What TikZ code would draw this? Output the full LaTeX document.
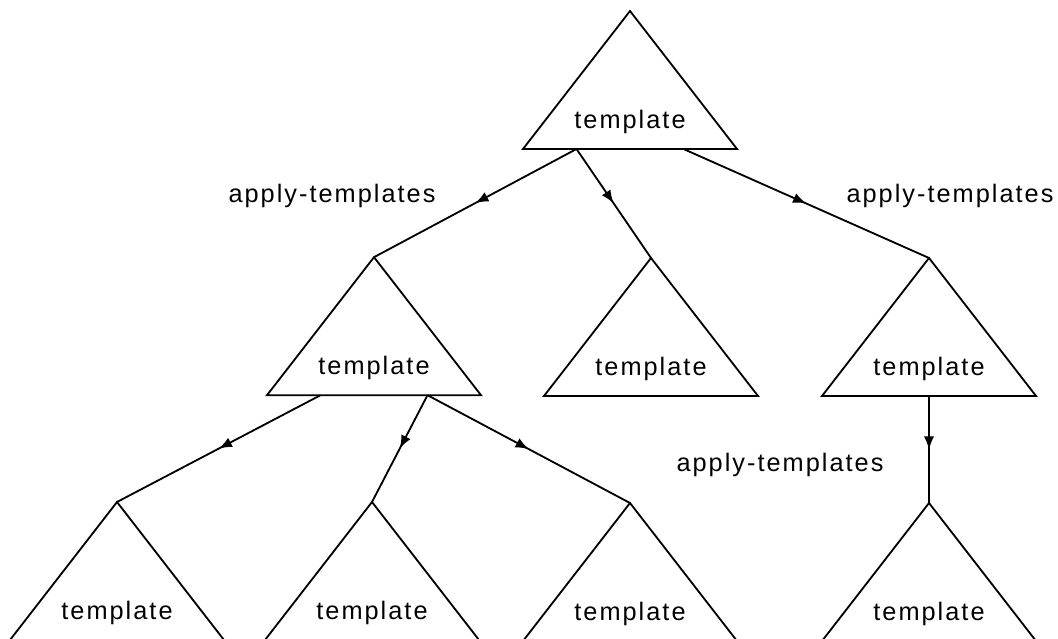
\documentclass[tikz,border=0pt]{standalone}
\usepackage{fontspec}
\setmainfont{Liberation Sans}[LetterSpace=8]
\usetikzlibrary{arrows.meta,decorations.markings}

% one template triangle: apex, base points and label
\newcommand{\tmpl}[2]{%
  \coordinate (#1-top) at (#2);
  \draw[tri] (#1-top) -- ++(-2.675,-3.45) -- ++(5.35,0) -- cycle;
  \node[tlabel, anchor=base] (#1) at ([yshift=-2.93cm]#1-top) {template};
  \coordinate (#1-l) at ([xshift=-1.3375cm,yshift=-3.45cm]#1-top);
  \coordinate (#1-b) at ([yshift=-3.45cm]#1-top);
  \coordinate (#1-r) at ([xshift=1.3375cm,yshift=-3.45cm]#1-top);
}

\begin{document}
\begin{tikzpicture}[
  tri/.style={line width=1.3pt},
  tlabel/.style={inner sep=0pt, font=\fontsize{18}{22}\selectfont},
  call/.style={line width=1.3pt, postaction={decorate},
    decoration={markings, mark=at position 0.5 with {\arrow{Latex[length=3.3mm,width=2.6mm]}}}}
]
\useasboundingbox (0,0) rectangle (26.45,-15.975);

% Root template
\tmpl{root}{15.75,-0.275}

% Second level
\tmpl{a}{9.35,-6.43}
\tmpl{b}{16.275,-6.45}
\tmpl{c}{23.225,-6.45}

% Third level
\tmpl{d}{2.925,-12.55}
\tmpl{e}{9.3,-12.55}
\tmpl{f}{15.75,-12.575}
\tmpl{g}{23.225,-12.575}

% Calls
\draw[call] (root-l) -- (a-top);
\draw[call] (root-l) -- (b-top);
\draw[call] (root-r) -- (c-top);
\draw[call] (a-l) -- (d-top);
\draw[call] (a-r) -- (e-top);
\draw[call] (a-r) -- (f-top);
\draw[call] (c-b) -- (g-top);

% Labels
\node[tlabel, anchor=base] (applyL) at (8.3,-5.075) {apply-templates};
\node[tlabel, anchor=base] (applyR) at (23.75,-5.075) {apply-templates};
\node[tlabel, anchor=base] (applyG) at (19.5,-11.775) {apply-templates};

\end{tikzpicture}
\end{document}
